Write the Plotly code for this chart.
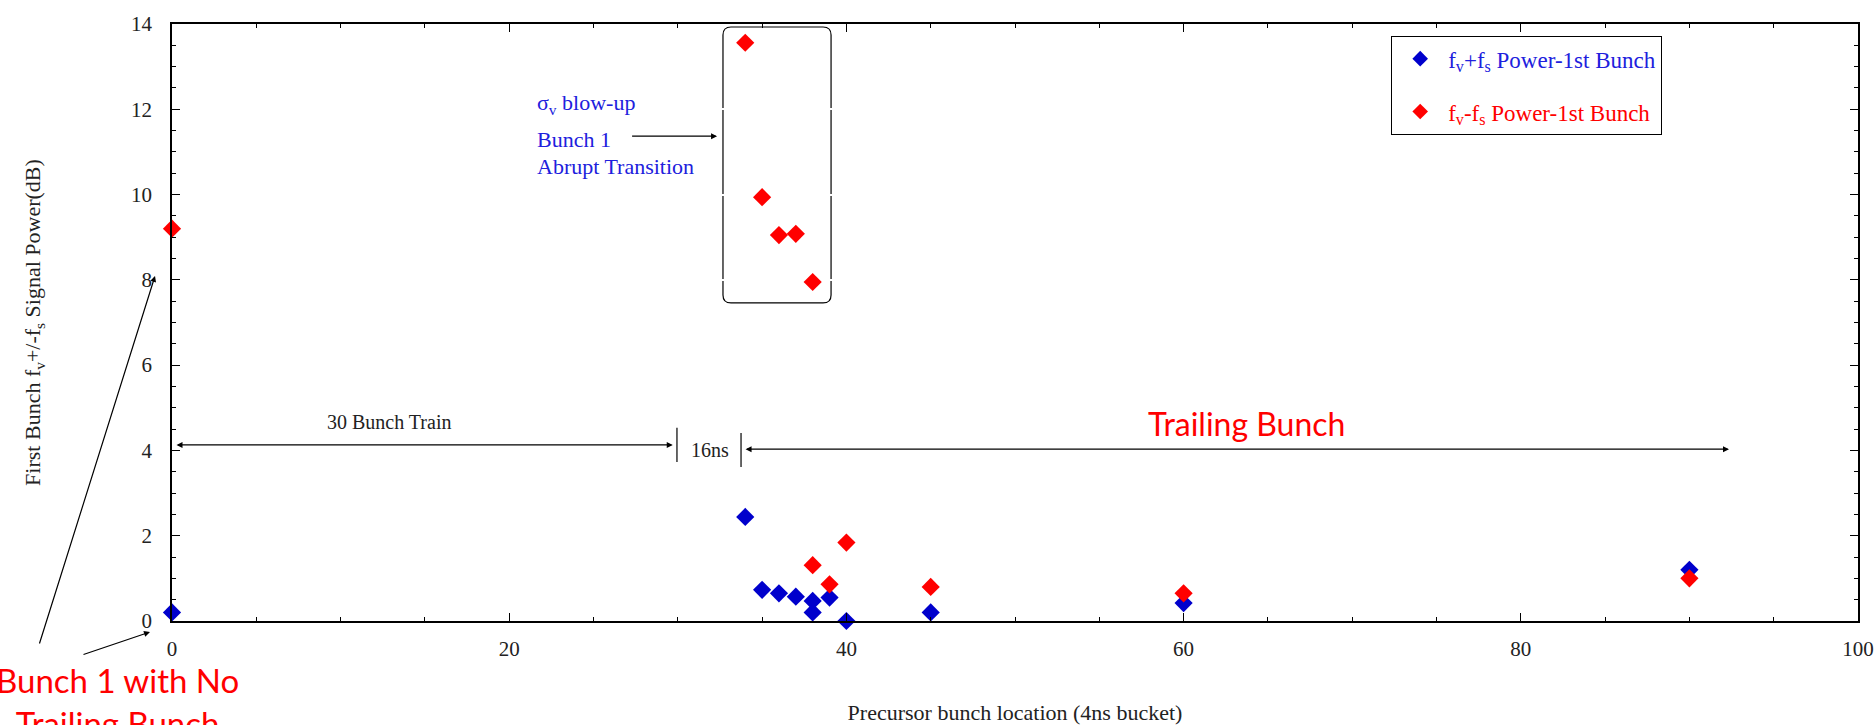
import plotly.graph_objects as go

# ---- data ----
bunch_loc_plus = [0, 34, 35, 36, 37, 38, 38, 39, 40, 45, 60, 90]
power_plus = [0.2, 2.44, 0.73, 0.65, 0.57, 0.47, 0.2, 0.55, 0.0, 0.2, 0.42, 1.2]

bunch_loc_minus = [0, 34, 35, 36, 37, 38, 38, 39, 40, 45, 60, 90]
power_minus = [9.2, 13.56, 9.94, 9.05, 9.08, 7.95, 1.31, 0.86, 1.84, 0.8, 0.65, 1.0]

name_plus = "f<sub>v</sub>+f<sub>s</sub> Power-1st Bunch"
name_minus = "f<sub>v</sub>-f<sub>s</sub> Power-1st Bunch"

BLUE = "#0000CC"
RED = "#FF0000"
TXT_BLUE = "#2020DD"
SERIF = "Liberation Serif"
SANS = "Lato"

W, H = 1876, 725
L, R, T, B = 172, 18, 24, 104
PW, PH = W - L - R, H - T - B


def px_x(p):
    return (p - L) / PW


def px_y(p):
    return (H - B - p) / PH


fig = go.Figure()
fig.add_trace(go.Scatter(
    x=bunch_loc_plus, y=power_plus, mode="markers", cliponaxis=False,
    name=f"<span style='color:{TXT_BLUE}'>{name_plus}</span>",
    legendgroup="a",
    marker=dict(symbol="diamond", size=14, color=BLUE, line=dict(width=0)),
))
fig.add_trace(go.Scatter(
    x=bunch_loc_minus, y=power_minus, mode="markers", cliponaxis=False,
    name=f"<span style='color:{RED}'>{name_minus}</span>",
    legendgroup="b",
    marker=dict(symbol="diamond", size=14, color=RED, line=dict(width=0)),
))

axis_common = dict(
    showline=True, linecolor="black", linewidth=1.5, mirror="ticks",
    ticks="inside", ticklen=8, tickwidth=1, tickcolor="black",
    showgrid=True, gridcolor="white", gridwidth=1.5, zeroline=False,
    tickfont=dict(family=SERIF, size=21, color="#222"),
)

fig.update_xaxes(
    range=[0, 100], tick0=0, dtick=20,
    minor=dict(ticks="inside", dtick=5, ticklen=4, tickcolor="black", showgrid=False),
    ticklabelstandoff=8,
    title=dict(text="Precursor bunch location (4ns bucket)",
               font=dict(family=SERIF, size=22, color="#222"), standoff=46),
    **axis_common,
)
fig.update_yaxes(
    range=[0, 14], tick0=0, dtick=2,
    minor=dict(ticks="inside", dtick=0.5, ticklen=4, tickcolor="black", showgrid=False),
    ticklabelstandoff=14,
    title=dict(text="First Bunch f<sub>v</sub>+/-f<sub>s</sub> Signal Power(dB)",
               font=dict(family=SERIF, size=22, color="#222"), standoff=84),
    **axis_common,
)

# rounded box around the blow-up points
x0, x1, y0, y1 = 32.68, 39.09, 7.46, 13.93
rx, ry = 8 / (PW / 100), 8 / (PH / 14)
path = (f"M {x0+rx},{y0} L {x1-rx},{y0} Q {x1},{y0} {x1},{y0+ry} "
        f"L {x1},{y1-ry} Q {x1},{y1} {x1-rx},{y1} L {x0+rx},{y1} "
        f"Q {x0},{y1} {x0},{y1-ry} L {x0},{y0+ry} Q {x0},{y0} {x0+rx},{y0} Z")
shapes = [
    dict(type="path", path=path, xref="x", yref="y", layer="below",
         line=dict(color="black", width=1.2)),
    dict(type="line", xref="x", yref="y", x0=29.95, x1=29.95, y0=3.73, y1=4.53,
         line=dict(color="black", width=1.2)),
    dict(type="line", xref="x", yref="y", x0=33.75, x1=33.75, y0=3.61, y1=4.41,
         line=dict(color="black", width=1.2)),
]

ann = []
arrow_style = dict(showarrow=True, arrowhead=2, arrowsize=1, arrowwidth=1.2,
                   arrowcolor="black", standoff=0, startstandoff=0, text="")
# 30 bunch train double arrow
ann.append(dict(x=29.7, y=4.13, ax=0.18, ay=4.13, xref="x", yref="y",
                axref="x", ayref="y", arrowside="end+start", **arrow_style))
# trailing bunch double arrow
ann.append(dict(x=92.35, y=4.03, ax=33.93, ay=4.03, xref="x", yref="y",
                axref="x", ayref="y", arrowside="end+start", **arrow_style))
# blow-up arrow
ann.append(dict(x=32.33, y=11.37, ax=27.2, ay=11.37, xref="x", yref="y",
                axref="x", ayref="y", **arrow_style))
# arrows from the bottom-left note
ann.append(dict(x=px_x(155), y=px_y(276), xref="paper", yref="paper",
                ax=-116, ay=369, **arrow_style))
ann.append(dict(x=px_x(150), y=px_y(632), xref="paper", yref="paper",
                ax=-68, ay=23, **arrow_style))

ann += [
    dict(x=12.87, y=4.67, xref="x", yref="y", text="30 Bunch Train", showarrow=False,
         font=dict(family=SERIF, size=20, color="#222")),
    dict(x=31.9, y=4.01, xref="x", yref="y", text="16ns", showarrow=False,
         font=dict(family=SERIF, size=20, color="#222")),
    dict(x=63.76, y=4.64, xref="x", yref="y", text="Trailing Bunch", showarrow=False,
         font=dict(family=SANS, size=32, color=RED)),
    dict(x=21.53, y=12.12, xref="x", yref="y", text="σ<sub>v</sub> blow-up",
         showarrow=False, xanchor="left",
         font=dict(family=SERIF, size=22, color=TXT_BLUE)),
    dict(x=21.53, y=11.28, xref="x", yref="y", text="Bunch 1",
         showarrow=False, xanchor="left",
         font=dict(family=SERIF, size=22, color=TXT_BLUE)),
    dict(x=21.53, y=10.65, xref="x", yref="y", text="Abrupt Transition",
         showarrow=False, xanchor="left",
         font=dict(family=SERIF, size=22, color=TXT_BLUE)),
    dict(x=px_x(117), y=px_y(658), xref="paper", yref="paper",
         text="Bunch 1 with No<br>Trailing Bunch", showarrow=False,
         xanchor="center", yanchor="top", align="center",
         font=dict(family=SANS, size=33, color=RED)),
]

fig.update_layout(
    width=W, height=H,
    margin=dict(l=L, r=R, t=T, b=B, autoexpand=False),
    paper_bgcolor="white", plot_bgcolor="white",
    shapes=shapes, annotations=ann,
    showlegend=True,
    legend=dict(x=px_x(1391), y=px_y(36), xanchor="left", yanchor="top",
                bgcolor="white", bordercolor="black", borderwidth=1.2,
                font=dict(family=SERIF, size=23, color="#222"),
                tracegroupgap=20, itemsizing="constant", itemwidth=46),
)

fig.write_html("out.html")
